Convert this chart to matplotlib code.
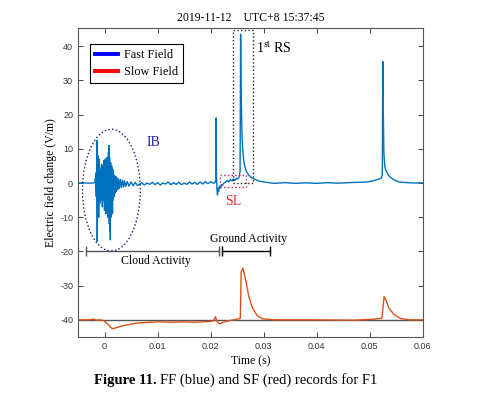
import matplotlib
matplotlib.use("Agg")
import matplotlib.pyplot as plt
from matplotlib.patches import Ellipse, Rectangle
from matplotlib.lines import Line2D

plt.rcParams["font.family"] = ["Liberation Serif", "DejaVu Serif"]
plt.rcParams["mathtext.fontset"] = "stix"
plt.rcParams["axes.unicode_minus"] = False

# fast field (V/m) vs time (s)
ff_time = [
    -0.0050, -0.0040, -0.0030, -0.0022, -0.0018,
    -0.00170, -0.00165, -0.00160, -0.00155, -0.00150, -0.00145, -0.00140, -0.00137,
    -0.00133, -0.00129, -0.00125, -0.00120, -0.00115, -0.00110, -0.00105, -0.00100,
    -0.00095, -0.00090, -0.00085, -0.00080, -0.00075, -0.00070, -0.00065, -0.00060,
    -0.00055, -0.00050, -0.00045, -0.00040, -0.00035, -0.00030, -0.00025, -0.00020,
    -0.00015, -0.00010, -0.00005, 0.00000, 0.00005, 0.00010, 0.00015, 0.00020,
    0.00025, 0.00030, 0.00035, 0.00040, 0.00045, 0.00050, 0.00055, 0.00060,
    0.00065, 0.00070, 0.00075, 0.00080, 0.00085, 0.00090, 0.00095, 0.00100,
    0.00105, 0.00110, 0.00115, 0.00120, 0.00125, 0.00130, 0.00135, 0.00140,
    0.00145, 0.00150, 0.00155, 0.00160, 0.00170, 0.00180, 0.00190, 0.00200,
    0.00210, 0.00220, 0.00235, 0.00250, 0.00265, 0.00280, 0.00300, 0.00320,
    0.00340, 0.00360, 0.00380, 0.00400, 0.00430, 0.00460, 0.00500, 0.00540,
    0.00580, 0.00620,
    0.0065, 0.0070, 0.0075, 0.0080, 0.0085, 0.0090, 0.0095, 0.0100, 0.0105, 0.0110,
    0.0115, 0.0120, 0.0125, 0.0130, 0.0135, 0.0140, 0.0145, 0.0150, 0.0155, 0.0160,
    0.0165, 0.0170, 0.0175, 0.0180, 0.0185, 0.0190, 0.0195, 0.0200, 0.0205,
    0.02090, 0.02100, 0.02105, 0.02110, 0.02120, 0.02130, 0.02140, 0.02150, 0.02165,
    0.02180, 0.02200, 0.02220, 0.02250, 0.02280, 0.02310, 0.02340, 0.02370, 0.02400,
    0.02430, 0.02460, 0.02490, 0.02520, 0.02540, 0.02555, 0.02565, 0.02572, 0.02580,
    0.02590, 0.02600, 0.02615, 0.02630, 0.02650, 0.02680, 0.02720, 0.02770, 0.02830,
    0.02900, 0.03000, 0.03100,
    0.0320, 0.0340, 0.0360, 0.0380, 0.0400, 0.0420, 0.0440, 0.0460, 0.0480, 0.0495,
    0.0505, 0.0512, 0.0518, 0.0522, 0.05235, 0.05245, 0.05255, 0.05265, 0.05280,
    0.0530, 0.0535, 0.0540, 0.0547, 0.0555, 0.0570, 0.0585, 0.0600,
]
ff_values = [
    0.0, 0.05, -0.05, 0.0, 0.2,
    1.5, -2.0, 3.0, -4.0, 2.5, -3.0, 12.5, -17.0,
    6.0, -9.0, 8.0, -6.0, 4.5, -10.0, 7.0, -4.0,
    5.0, -6.0, 3.0, -3.5, 4.0, -5.0, 2.5, -3.0,
    5.5, -4.0, 5.0, -7.0, 3.5, -5.0, 4.0, -3.0,
    6.5, -4.5, 3.0, -8.0, 5.0, -6.0, 7.0, -5.0,
    4.0, -9.0, 6.0, -7.0, 7.5, -6.0, 5.0, -10.0,
    6.0, -5.0, 9.0, -8.0, 11.0, -12.0, 7.5, -14.0,
    5.0, -16.6, 6.0, -10.0, 4.0, -8.0, 5.0, -6.0,
    3.5, -9.0, 4.0, -5.0, 2.5, -4.0, 2.0, -3.0,
    2.0, -2.5, 1.5, -2.0, 1.2, -1.6, 1.0, -1.3,
    0.8, -1.1, 0.6, -1.0, 0.4, -0.9, 0.3, -0.8,
    0.2, -0.7,
    -0.5, 0.1, -0.6, 0.0, -0.4, 0.2, -0.5, 0.1, -0.6, 0.0,
    -0.3, 0.3, -0.5, 0.1, -0.4, 0.2, -0.5, 0.0, -0.4, 0.3,
    -0.3, 0.2, -0.4, 0.3, -0.3, 0.4, -0.2, 0.4, -0.1,
    0.3, 1.0, 19.0, 2.0, -2.0, -3.5, -1.5, -2.5, -1.0,
    -1.5, -0.5, -0.8, 0.0, 0.2, 0.8, 0.3, 1.0, 0.6,
    1.2, 0.8, 1.4, 1.2, 2.0, 3.5, 43.5, 30.0, 22.0,
    15.0, 11.0, 8.0, 6.0, 4.5, 3.2, 2.3, 1.6, 1.1,
    0.6, 0.3, 0.1,
    -0.1, 0.1, -0.1, 0.05, -0.1, 0.1, -0.05, 0.1, 0.2, 0.3,
    0.6, 0.9, 1.2, 1.5, 2.5, 35.5, 20.0, 9.0, 5.0,
    3.8, 2.3, 1.5, 0.8, 0.3, 0.1, 0.0, 0.05,
]

# slow field (V/m), drawn shifted down by SF_OFFSET
SF_OFFSET = -40
sf_time = [
    -0.0050, -0.0030, -0.0020, -0.0015, -0.0008, -0.0002, 0.0003, 0.0008, 0.0012,
    0.0016, 0.0022, 0.0033, 0.0045, 0.0058, 0.0075, 0.0102, 0.0125, 0.0147, 0.0170,
    0.0196, 0.0205, 0.0209, 0.0212, 0.0216, 0.0222, 0.0234, 0.0253, 0.0256, 0.02575,
    0.0261, 0.0266, 0.0272, 0.0279, 0.0288, 0.0298, 0.0320, 0.0400, 0.0470, 0.0508,
    0.0523, 0.0525, 0.0527, 0.0531, 0.0536, 0.0546, 0.0558, 0.0575, 0.0600,
]
sf_values = [
    0.0, 0.0, 0.2, -0.1, 0.0, -0.2, -0.8, -1.5, -2.3,
    -2.6, -2.3, -1.8, -1.4, -1.0, -0.8, -0.6, -0.7, -0.6, -0.7,
    -0.5, -0.3, 0.9, -0.5, -1.2, -0.8, -0.3, 0.3, 0.5, 14.0,
    15.1, 11.7, 6.8, 3.4, 1.2, 0.3, 0.0, 0.0, -0.1, 0.2,
    0.5, 4.0, 6.8, 5.5, 3.4, 1.5, 0.4, 0.0, 0.0,
]

ff_color = "#0072BD"
sf_color = "#D95319"

fig = plt.figure(figsize=(4.92, 3.95), dpi=100)
ax = fig.add_axes([0.1585, 0.147, 0.701, 0.782])

ax.axhline(SF_OFFSET, color="#555555", lw=1.0, zorder=1)
ax.plot(ff_time, ff_values, color=ff_color, lw=1.0, zorder=3)
ax.plot(sf_time, [v + SF_OFFSET for v in sf_values], color=sf_color, lw=1.0, zorder=2)

ax.set_xlim(-0.005, 0.06)
ax.set_ylim(-45, 45.3)
ax.set_xticks([0, 0.01, 0.02, 0.03, 0.04, 0.05, 0.06])
ax.set_xticklabels(["0", "0.01", "0.02", "0.03", "0.04", "0.05", "0.06"])
ax.set_yticks([-40, -30, -20, -10, 0, 10, 20, 30, 40])
ax.tick_params(direction="in", top=True, right=True, length=3.5, width=0.7,
               labelsize=6.5, labelcolor="#333333", color="#444444")
for lab in ax.get_xticklabels() + ax.get_yticklabels():
    lab.set_family("Liberation Sans")
for sp in ax.spines.values():
    sp.set_color("#555555")
    sp.set_linewidth(0.8)

ax.set_xlabel("Time (s)", fontsize=8.5, labelpad=3)
ax.set_ylabel("Electric field change (V/m)", fontsize=8.5, labelpad=2)
ax.set_title("2019-11-12    UTC+8 15:37:45", fontsize=8.5, pad=5)

# IB ellipse and label
ax.add_patch(Ellipse((0.0013, -2.1), 0.0109, 35.6, fill=False, ls=":", lw=1.0,
                     edgecolor="#1a1a80", zorder=4))
ax.text(0.0092, 11.7, "IB", color="#2020b0", fontsize=10, ha="center", va="center")

# SL box and label
ax.add_patch(Rectangle((0.0217, -1.2), 0.0049, 3.5, fill=False, ls=":", lw=1.0,
                       edgecolor="#c0206a", zorder=4))
ax.text(0.0243, -5.4, "SL", color="#e03030", fontsize=10, ha="center", va="center")

# first return stroke box and label
ax.add_patch(Rectangle((0.0242, 0.0), 0.0037, 44.7, fill=False, ls=":", lw=1.0,
                       edgecolor="#222222", zorder=4))
ax.text(0.0285, 39.5, r"1$^{\mathrm{st}}$ RS", fontsize=10, ha="left", va="center")

# activity bars
ax.plot([-0.0034, 0.0215], [-20, -20], color="#555555", lw=1.0, marker="|",
        markersize=7, mew=1.0)
ax.text(0.0096, -22.9, "Cloud Activity", fontsize=8.5, ha="center", va="center")
ax.plot([0.0221, 0.0311], [-20, -20], color="black", lw=1.0, marker="|",
        markersize=7, mew=1.0)
ax.text(0.0272, -16.3, "Ground Activity", fontsize=8.5, ha="center", va="center")

handles = [Line2D([], [], color="#0000ff", lw=2.8), Line2D([], [], color="#ff0000", lw=2.8)]
leg = ax.legend(handles, ["Fast Field", "Slow Field"], loc="upper left",
                bbox_to_anchor=(0.018, 0.968), fontsize=8.8, handlelength=1.9,
                handletextpad=0.45, borderpad=0.4, labelspacing=0.4, fancybox=False,
                framealpha=1)
leg.get_frame().set_edgecolor("black")
leg.get_frame().set_linewidth(0.8)

fig.text(0.318, 0.037, "Figure 11.", fontsize=10.5, fontweight="bold", ha="right", va="center")
fig.text(0.326, 0.037, "FF (blue) and SF (red) records for F1", fontsize=10.5,
         ha="left", va="center")

fig.savefig("out.png", dpi=100)
